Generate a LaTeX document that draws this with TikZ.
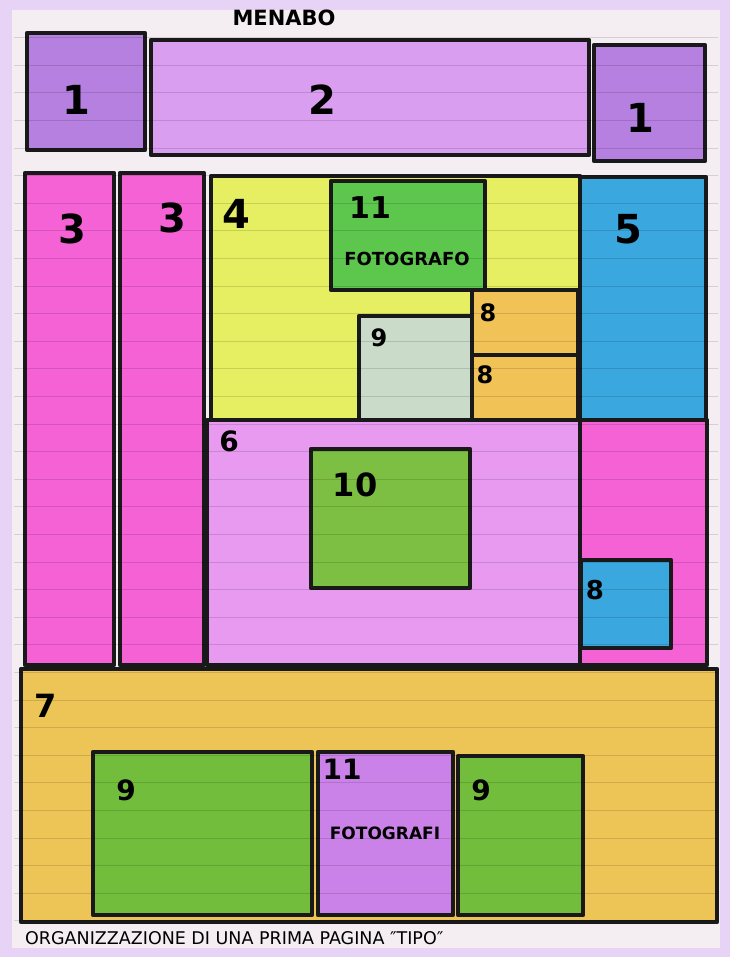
\documentclass[tikz,border=0pt]{standalone}
\usepackage{fontspec}
\setmainfont{DejaVu Sans}
\definecolor{frame}{HTML}{E6D3F6}
\definecolor{paper}{HTML}{F4EEF2}
\definecolor{violet1}{HTML}{B580E0}
\definecolor{lilac2}{HTML}{D99EF0}
\definecolor{magenta3}{HTML}{F462D6}
\definecolor{yellow4}{HTML}{E6EE62}
\definecolor{blue5}{HTML}{3BA7DF}
\definecolor{pink6}{HTML}{E79AF0}
\definecolor{ochre7}{HTML}{ECC556}
\definecolor{orange8}{HTML}{F1C357}
\definecolor{grey9}{HTML}{CADBC9}
\definecolor{green9}{HTML}{72BD3C}
\definecolor{green10}{HTML}{7DBF42}
\definecolor{green11}{HTML}{5DC64C}
\definecolor{lilac11}{HTML}{CA82E8}
\begin{document}
\begin{tikzpicture}[
        x=1pt, y=-1pt,
        zone/.style={
            draw=black!90,
            line width=4.5pt,
            line join=round
        },
        num/.style={
            font=\fontsize{40}{40}\selectfont\bfseries,
            inner sep=0pt
        },
        word/.style={
            font=\fontsize{18}{18}\selectfont\bfseries,
            inner sep=0pt
        },
        rule/.style={black, opacity=0.13, line width=0.7pt}
    ]

    \useasboundingbox (0,0) rectangle (730,957);
    \fill[frame] (0,0) rectangle (730,957);
    \fill[paper] (12,10) rectangle (720,948);

    % testata
    \node[word, font=\fontsize{21}{21}\selectfont\bfseries] (menabo) at (284,18) {MENABO};
    \draw[zone, fill=violet1] (27,33) rectangle (145,150);
    \draw[zone, fill=lilac2]  (151,40) rectangle (589,155);
    \draw[zone, fill=violet1] (594,45) rectangle (705,161);

    % colonne
    \draw[zone, fill=magenta3] (25,173) rectangle (114,665);
    \draw[zone, fill=magenta3] (120,173) rectangle (204,665);

    % blocco centrale
    \draw[zone, fill=yellow4] (211,176) rectangle (580,420);
    \draw[zone, fill=green11] (331,181) rectangle (485,290);
    \draw[zone, fill=orange8] (472,290) rectangle (578,420);
    \draw[zone] (472,355) -- (576,355);
    \draw[zone, fill=grey9]   (359,316) rectangle (472,420);
    \draw[zone, fill=blue5]   (580,177) rectangle (706,420);
    \draw[zone, fill=pink6]   (207,420) rectangle (580,665);
    \draw[zone, fill=green10] (311,449) rectangle (470,588);
    \draw[zone, fill=magenta3] (580,420) rectangle (707,665);
    \draw[zone, fill=blue5]   (581,560) rectangle (671,648);

    % fascia bassa
    \draw[zone, fill=ochre7]  (21,669) rectangle (717,922);
    \draw[zone, fill=green9]  (93,752) rectangle (312,915);
    \draw[zone, fill=lilac11] (318,752) rectangle (453,915);
    \draw[zone, fill=green9]  (458,756) rectangle (583,915);

    % righe del quaderno
    \foreach \k in {1,...,33}
        \draw[rule] (14,10+27.6*\k) -- (718,10+27.6*\k);

    % numeri
    \node[num] (n1a) at (76,100)  {1};
    \node[num] (n2)  at (322,100) {2};
    \node[num] (n1b) at (640,118) {1};
    \node[num] (n3a) at (72,229)  {3};
    \node[num] (n3b) at (172,218) {3};
    \node[num] (n4)  at (236,214) {4};
    \node[num, font=\fontsize{30}{30}\selectfont\bfseries] (n11a) at (370,208) {11};
    \node[word] (foto) at (407,259) {FOTOGRAFO};
    \node[num, font=\fontsize{24}{24}\selectfont\bfseries] (n8a) at (488,313) {8};
    \node[num, font=\fontsize{24}{24}\selectfont\bfseries] (n8b) at (485,375) {8};
    \node[num, font=\fontsize{24}{24}\selectfont\bfseries] (n9a) at (379,338) {9};
    \node[num] (n5)  at (628,229) {5};
    \node[num, font=\fontsize{28}{28}\selectfont\bfseries] (n6) at (229,441) {6};
    \node[num, font=\fontsize{32}{32}\selectfont\bfseries] (n10) at (355,485) {10};
    \node[num, font=\fontsize{26}{26}\selectfont\bfseries] (n8c) at (595,590) {8};
    \node[num, font=\fontsize{32}{32}\selectfont\bfseries] (n7) at (46,706) {7};
    \node[num, font=\fontsize{28}{28}\selectfont\bfseries] (n9b) at (126,790) {9};
    \node[num, font=\fontsize{28}{28}\selectfont\bfseries] (n11b) at (342,769) {11};
    \node[word, font=\fontsize{17}{17}\selectfont\bfseries] (fotob) at (385,833) {FOTOGRAFI};
    \node[num, font=\fontsize{28}{28}\selectfont\bfseries] (n9c) at (481,790) {9};

    \node[word, font=\fontsize{17.5}{17.5}\selectfont, anchor=west] (caption) at (25,938) {ORGANIZZAZIONE DI UNA PRIMA PAGINA ″TIPO″};

    \end{tikzpicture}
\end{document}
